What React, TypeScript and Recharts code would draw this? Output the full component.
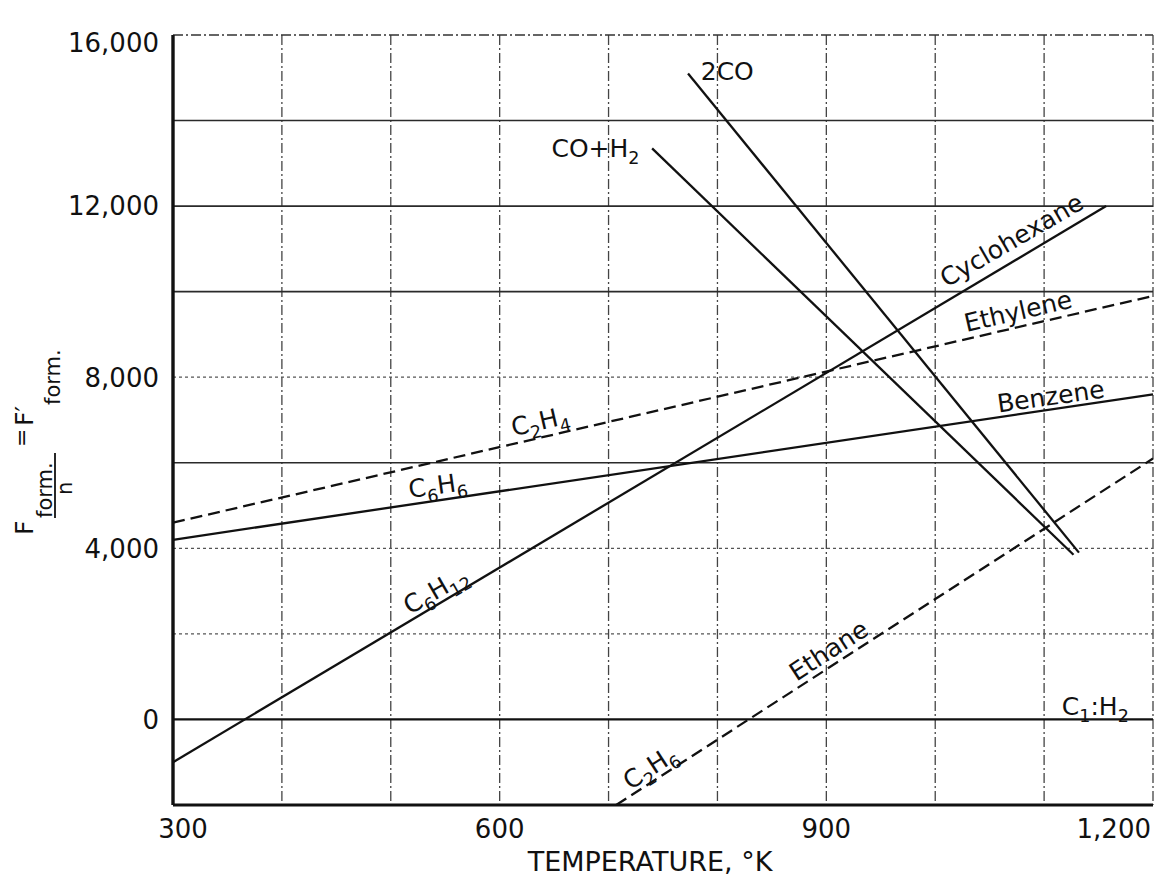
import React from 'react';
import { LineChart, Line, XAxis, YAxis, CartesianGrid, ReferenceLine, ReferenceDot } from 'recharts';

const FONT = '"DejaVu Sans", Verdana, sans-serif';
const INK = '#111';

// temperature axis (°K) and free energy axis
const xTicks = [300, 400, 500, 600, 700, 800, 900, 1000, 1100, 1200];
const xLabelled = [300, 600, 900, 1200];
const yTicks = [-2000, 0, 2000, 4000, 6000, 8000, 10000, 12000, 14000, 16000];
const yLabelled = [0, 4000, 8000, 12000, 16000];
const darkRows = [14000, 12000, 10000, 6000];
const faintRows = [8000, 4000, 2000];

// F form. / n, straight lines read at their ends
const c1h2 = [{ t: 300, v: 0 }, { t: 1200, v: 0 }];
const cyclohexane = [{ t: 300, v: -1000 }, { t: 1157, v: 12000 }];
const benzene = [{ t: 300, v: 4200 }, { t: 1200, v: 7600 }];
const ethylene = [{ t: 300, v: 4600 }, { t: 1200, v: 9900 }];
const ethane = [{ t: 707, v: -2000 }, { t: 1200, v: 6100 }];
const coH2 = [{ t: 740, v: 13350 }, { t: 1127, v: 3850 }];
const twoCO = [{ t: 773, v: 15100 }, { t: 1132, v: 3900 }];

const series = [
  { name: 'C1:H2', data: c1h2, dashed: false },
  { name: 'Cyclohexane', data: cyclohexane, dashed: false },
  { name: 'Benzene', data: benzene, dashed: false },
  { name: 'Ethylene', data: ethylene, dashed: true },
  { name: 'Ethane', data: ethane, dashed: true },
  { name: 'CO+H2', data: coH2, dashed: false },
  { name: '2CO', data: twoCO, dashed: false },
];

// text on the curves: parts alternate normal / subscript
const notes = [
  { parts: ['2CO'], t: 809, v: 15150, angle: 0 },
  { parts: ['CO+H', '2'], t: 688, v: 13360, angle: 0 },
  { parts: ['Cyclohexane'], t: 1070, v: 11210, angle: -30 },
  { parts: ['Ethylene'], t: 1076, v: 9550, angle: -13 },
  { parts: ['Benzene'], t: 1106, v: 7560, angle: -8 },
  { parts: ['C', '2', 'H', '4'], t: 637, v: 6980, angle: -13 },
  { parts: ['C', '6', 'H', '6'], t: 543, v: 5480, angle: -8 },
  { parts: ['C', '6', 'H', '12'], t: 541, v: 3030, angle: -30 },
  { parts: ['Ethane'], t: 902, v: 1620, angle: -33 },
  { parts: ['C', '2', 'H', '6'], t: 738, v: -1110, angle: -33 },
  { parts: ['C', '1', ':H', '2'], t: 1147, v: 310, angle: 0 },
];

const Note = ({ cx, cy, parts, angle }: any) => {
  const size = 25;
  const sh = 7;
  return (
    <g transform={`translate(${cx},${cy}) rotate(${angle})`}>
      <text x={0} y={size * 0.36} textAnchor="middle" fontSize={size} fontFamily={FONT} fill={INK}>
        {parts.map((p: string, i: number) =>
          i % 2 === 0 ? (
            <tspan key={i} dy={i === 0 ? 0 : -sh}>{p}</tspan>
          ) : (
            <tspan key={i} dy={sh} fontSize={size * 0.7}>{p}</tspan>
          )
        )}
      </text>
    </g>
  );
};

const XTick = (props: any) => {
  const { x, y, payload } = props;
  const v = payload.value;
  if (!xLabelled.includes(v)) return <g />;
  let tx = x;
  let anchor = 'middle';
  if (v === 300) tx = x + 10;
  if (v === 1200) { tx = x - 2; anchor = 'end'; }
  return (
    <text x={tx} y={y + 24} dy="0.36em" textAnchor={anchor} fontSize={26} fontFamily={FONT} fill={INK}>
      {v.toLocaleString('en-US')}
    </text>
  );
};

const YTick = (props: any) => {
  const { x, y, payload } = props;
  const v = payload.value;
  if (!yLabelled.includes(v)) return <g />;
  return (
    <text x={x} y={y + (v === 16000 ? 8 : 0)} dy="0.36em" textAnchor="end" fontSize={26} fontFamily={FONT} fill={INK}>
      {v.toLocaleString('en-US')}
    </text>
  );
};

const XTitle = () => (
  <text x={650} y={871} textAnchor="middle" fontSize={27} fontFamily={FONT} fill={INK}>
    TEMPERATURE, °K
  </text>
);

// F form./n = F'form. written upward along the left edge
const YTitle = () => (
  <g transform="translate(33,535) rotate(-90)" fontFamily={FONT} fill={INK}>
    <text x={0} y={0} fontSize={25}>F</text>
    <text x={17} y={19} fontSize={21}>form.</text>
    <line x1={17} x2={82} y1={22} y2={22} stroke={INK} strokeWidth={1.8} />
    <text x={40} y={39} fontSize={21}>n</text>
    <text x={88} y={-4} fontSize={22}>=</text>
    <text x={109} y={0} fontSize={25}>F′</text>
    <text x={130} y={27} fontSize={21}>form.</text>
  </g>
);

const App = () => {
  return (
    <div style={{ position: 'fixed', left: 0, top: 0, width: 1163, height: 884, background: '#fff' }}>
      <LineChart width={1163} height={884} margin={{ top: 35, right: 10, bottom: 0, left: 0 }}>
        <CartesianGrid horizontal={false} stroke="#444" strokeWidth={1.3} strokeDasharray="10 3 2 3" />
        <XAxis
          type="number"
          dataKey="t"
          domain={[300, 1200]}
          ticks={xTicks}
          interval={0}
          height={79}
          tickSize={0}
          tickMargin={0}
          tick={<XTick />}
          axisLine={{ stroke: INK, strokeWidth: 3 }}
          label={<XTitle />}
          allowDuplicatedCategory={false}
        />
        <YAxis
          type="number"
          domain={[-2000, 16000]}
          ticks={yTicks}
          interval={0}
          width={173}
          tickSize={0}
          tickMargin={14}
          tick={<YTick />}
          axisLine={{ stroke: INK, strokeWidth: 3.4 }}
          label={<YTitle />}
        />
        <ReferenceLine y={16000} stroke="#333" strokeWidth={1.4} strokeDasharray="10 3 2 3" />
        {darkRows.map((v) => (
          <ReferenceLine key={v} y={v} stroke="#2a2a2a" strokeWidth={1.6} />
        ))}
        {faintRows.map((v) => (
          <ReferenceLine key={v} y={v} stroke="#555" strokeWidth={1.2} strokeDasharray="3 3" />
        ))}
        {series.map((s) => (
          <Line
            key={s.name}
            data={s.data}
            dataKey="v"
            name={s.name}
            type="linear"
            stroke={INK}
            strokeWidth={2.3}
            strokeDasharray={s.dashed ? '12 6' : undefined}
            dot={false}
            activeDot={false}
            isAnimationActive={false}
          />
        ))}
        {notes.map((n, i) => (
          <ReferenceDot
            key={i}
            x={n.t}
            y={n.v}
            r={0}
            ifOverflow="visible"
            shape={(p: any) => <Note cx={p.cx} cy={p.cy} parts={n.parts} angle={n.angle} />}
          />
        ))}
      </LineChart>
    </div>
  );
};

export default App;
